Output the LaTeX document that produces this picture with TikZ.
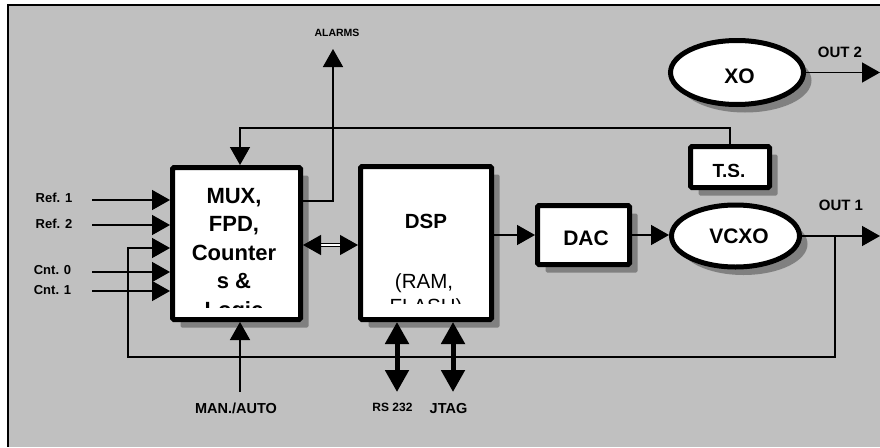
\documentclass[tikz,border=0pt]{standalone}
\usepackage{fontspec}
\setmainfont{Liberation Sans}
\usetikzlibrary{arrows.meta,shapes.geometric,shadows,calc}
\definecolor{bg}{HTML}{C0C0C0}
\definecolor{shd}{HTML}{808080}
\newcommand\fsz[1]{\fontsize{#1}{#1}\selectfont}
\begin{document}
\begin{tikzpicture}[x=1pt,y=-1pt,
  blk/.style={draw, line width=5pt, fill=white, rounded corners=1.5pt, inner sep=0pt,
    drop shadow={shadow xshift=8pt, shadow yshift=-8pt, fill=shd, opacity=1}},
  box/.style={blk, rectangle},
  oval/.style={blk, ellipse},
  conn/.style={line width=1.5pt},
  arr/.style={conn, -{Triangle[length=18pt,width=20pt]}},
  dbl/.style={line width=1.2pt, double=white, double distance=2pt,
    {Triangle[length=18pt,width=20pt]}-{Triangle[length=18pt,width=20pt]}},
  bus/.style={line width=5pt, {Triangle[length=22pt,width=23pt]}-{Triangle[length=22pt,width=23pt]}},
  lbl/.style={font=\bfseries\fsz{13}, inner sep=0pt},
  btxt/.style={anchor=base, inner sep=0pt, font=\bfseries\fsz{21}},
  rtxt/.style={anchor=base, inner sep=0pt, font=\fsz{20.5}}]
\useasboundingbox (0,0) rectangle (880,447);
% frame
\fill[bg] (8,5) rectangle (880,447);
\draw[line width=2pt] (880,5) -- (8,5) -- (8,447);

% blocks
\node[box, minimum width=128pt, minimum height=152pt] (mux) at (236.5,243.5) {};
\node[box, minimum width=131pt, minimum height=153pt] (dsp) at (426,243) {};
\node[box, minimum width=92pt, minimum height=59pt] (dac) at (583.5,235) {};
\node[box, minimum width=79pt, minimum height=41pt] (ts) at (730,167) {};
\node[oval, minimum width=128pt, minimum height=62pt] (vcxo) at (735.5,236) {};
\node[oval, minimum width=133pt, minimum height=64pt] (xo) at (737,72.5) {};

% block texts
\begin{scope}
\clip (175,170) rectangle (298,307);
\node[btxt, font=\bfseries\fsz{22}] (m1) at (234,203) {MUX,};
\node[btxt, font=\bfseries\fsz{22}] (m2) at (234,231.5) {FPD,};
\node[btxt, font=\bfseries\fsz{22}] (m3) at (234,260) {Counter};
\node[btxt, font=\bfseries\fsz{22}] (m4) at (234,288.5) {s \&};
\node[btxt, font=\bfseries\fsz{22}] (m5) at (234,317) {Logic};
\end{scope}
\begin{scope}
\clip (363,169) rectangle (489,303);
\node[btxt, font=\bfseries\fsz{20.5}] (d1) at (426,228) {DSP};
\node[rtxt] (d2) at (424,288) {(RAM,};
\node[rtxt] (d3) at (426,313) {FLASH)};
\end{scope}
\begin{scope}
\clip (692,148) rectangle (768,176);
\node[btxt, font=\bfseries\fsz{19}] (t1) at (729,177.5) {T.S.};
\end{scope}
\node[btxt] (a1) at (586,245) {DAC};
\node[btxt] (v1) at (739,243.5) {VCXO};
\node[btxt] (x1) at (739.5,83) {XO};

% coordinates
\coordinate (r1) at (92,200);
\coordinate (r2) at (92,225);
\coordinate (c0) at (92,272);
\coordinate (c1) at (92,291);
\coordinate (fbin) at (128,248);
\coordinate (fbl) at (128,357);
\coordinate (fbj) at (835,236);
\coordinate (out1) at (880,236);
\coordinate (out2) at (880,72.5);
\coordinate (alm) at (333,49);
\path (mux.east) ++(0,-42.5) coordinate (als);
\coordinate (tsf) at (240,128);
\coordinate (mdy) at (0,245);
\coordinate (man) at (240,392);
\coordinate (rs) at (397,392);
\coordinate (jt) at (453,392);

% connectors
\draw[arr] (r1) -- (r1 -| mux.west);
\draw[arr] (r2) -- (r2 -| mux.west);
\draw[arr] (c0) -- (c0 -| mux.west);
\draw[arr] (c1) -- (c1 -| mux.west);
\draw[arr] (fbj) |- (fbl) -- (fbin) -- (fbin -| mux.west);
\draw[arr] (als) -| (alm);
\draw[arr] (ts.north) |- (tsf) -- (tsf |- mux.north);
\draw[dbl] (mux.east |- mdy) -- (dsp.west |- mdy);
\draw[arr] (dsp.east |- dac.west) -- (dac.west);
\draw[arr] (dac.east) -- (dac.east -| vcxo.west);
\draw[arr] (vcxo.east) -- (out1);
\draw[arr] (xo.east) -- (out2);
\draw[arr] (man) -- (man |- mux.south);
\draw[bus] (rs) -- (rs |- dsp.south);
\draw[bus] (jt) -- (jt |- dsp.south);

% labels
\node[lbl, font=\bfseries\fsz{10.5}] (lal) at (337,33) {ALARMS};
\node[lbl] (lr1) at (54,198) {Ref. 1};
\node[lbl] (lr2) at (54,224) {Ref. 2};
\node[lbl] (lc0) at (52.5,270) {Cnt. 0};
\node[lbl] (lc1) at (52.5,290) {Cnt. 1};
\node[lbl, font=\bfseries\fsz{15}] (lo2) at (840,52) {OUT 2};
\node[lbl, font=\bfseries\fsz{15}] (lo1) at (841,205.5) {OUT 1};
\node[lbl, font=\bfseries\fsz{14.5}] (lma) at (236,408) {MAN./AUTO};
\node[lbl, font=\bfseries\fsz{12}] (lrs) at (392.5,407) {RS 232};
\node[lbl, font=\bfseries\fsz{14.5}] (ljt) at (448.5,409) {JTAG};
\end{tikzpicture}
\end{document}
